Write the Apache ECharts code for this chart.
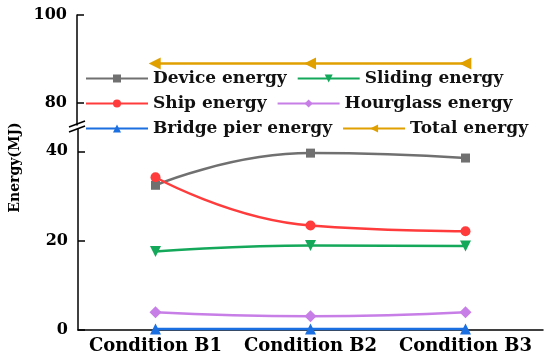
<!DOCTYPE html>
<html>
<head>
<meta charset="utf-8">
<script src="https://cdn.jsdelivr.net/npm/echarts@6/dist/echarts.min.js"></script>
<style>html,body{margin:0;padding:0;background:#fff}#c{width:550px;height:360px}</style>
</head>
<body>
<div id="c"></div>
<script>
const categories = ['Condition B1', 'Condition B2', 'Condition B3'];
const deviceEnergy = [32.4, 39.6, 38.5];
const slidingEnergy = [17.6, 18.9, 18.8];
const shipEnergy = [34.2, 23.4, 22.1];
const hourglassEnergy = [4.0, 3.1, 4.0];
const bridgePierEnergy = [0.2, 0.2, 0.2];
const totalEnergy = [89.0, 89.0, 89.0];
const lowerTicks = [0, 20, 40];
const upperTicks = [80, 100];

const FONT = 'DejaVu Serif';
const chart = echarts.init(document.getElementById('c'));
const legendText = {fontFamily: FONT, fontWeight: 'bold', fontSize: 17, color: '#111'};
function legend(top, names) {
  return {top: top, left: 80, orient: 'horizontal', itemWidth: 62, itemHeight: 10, itemGap: 10,
    textStyle: legendText, data: names, selectedMode: false};
}
function line(name, data, color, symbol, size, rot, grid) {
  return {name: name, type: 'line', data: data, xAxisIndex: grid, yAxisIndex: grid,
    smooth: true, symbol: symbol, symbolSize: size, symbolRotate: rot,
    lineStyle: {color: color, width: 2.5}, itemStyle: {color: color}, z: 3};
}
chart.setOption({
  animation: false,
  grid: [
    {left: 77, right: 7, top: 15, height: 110},
    {left: 77, right: 7, top: 129, height: 201}
  ],
  legend: [
    legend(65, ['Device energy', 'Sliding energy']),
    legend(90, ['Ship energy', 'Hourglass energy']),
    legend(115, ['Bridge pier energy', 'Total energy'])
  ],
  xAxis: [
    {type: 'category', gridIndex: 0, data: categories, show: false},
    {type: 'category', gridIndex: 1, data: categories,
      axisLine: {lineStyle: {color: '#000', width: 1.5}}, axisTick: {show: false},
      axisLabel: {color: '#000', fontFamily: FONT, fontWeight: 'bold', fontSize: 18, margin: 7, interval: 0, hideOverlap: false}}
  ],
  yAxis: [
    {type: 'value', gridIndex: 0, min: 75, max: 100,
      axisLine: {show: true, lineStyle: {color: '#000', width: 1.5}},
      axisTick: {show: true, inside: true, length: 7, customValues: upperTicks, lineStyle: {color: '#000', width: 1.5}},
      axisLabel: {color: '#000', fontFamily: FONT, fontWeight: 'bold', fontSize: 16, margin: 10, customValues: upperTicks},
      splitLine: {show: false}},
    {type: 'value', gridIndex: 1, min: 0, max: 45,
      name: 'Energy(MJ)', nameLocation: 'middle', nameGap: 56,
      nameTextStyle: {color: '#000', fontFamily: FONT, fontWeight: 'bold', fontSize: 14, padding: [0, 0, 0, 124]},
      axisLine: {show: true, lineStyle: {color: '#000', width: 1.5}},
      axisTick: {show: true, inside: true, length: 7, customValues: lowerTicks, lineStyle: {color: '#000', width: 1.5}},
      axisLabel: {color: '#000', fontFamily: FONT, fontWeight: 'bold', fontSize: 16, margin: 10, customValues: lowerTicks},
      splitLine: {show: false}}
  ],
  graphic: [
    {type: 'line', shape: {x1: 69, y1: 127, x2: 85, y2: 121}, style: {stroke: '#000', lineWidth: 1.5}},
    {type: 'line', shape: {x1: 69, y1: 132, x2: 85, y2: 126}, style: {stroke: '#000', lineWidth: 1.5}}
  ],
  series: [
    line('Device energy', deviceEnergy, '#707070', 'rect', 9, 0, 1),
    line('Sliding energy', slidingEnergy, '#14a85a', 'triangle', 11, 180, 1),
    line('Ship energy', shipEnergy, '#ff3b3b', 'circle', 10, 0, 1),
    line('Hourglass energy', hourglassEnergy, '#c77ee6', 'diamond', 12, 0, 1),
    line('Bridge pier energy', bridgePierEnergy, '#1c6fe0', 'triangle', 11, 0, 1),
    Object.assign(line('Total energy', totalEnergy, '#e0a000', 'triangle', 12, 90, 0), {smooth: false})
  ]
});
</script>
</body>
</html>
